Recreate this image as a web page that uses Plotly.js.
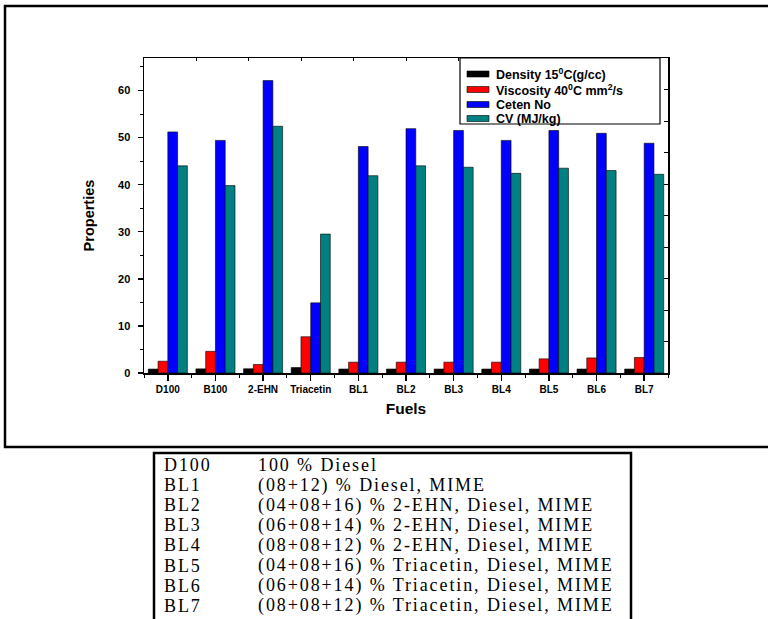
<!DOCTYPE html>
<html>
<head>
<meta charset="utf-8">
<script src="https://cdn.plot.ly/plotly-3.0.1.min.js"></script>
<style>
html,body{margin:0;padding:0;background:#fff;}
#chart{width:768px;height:619px;}
.annotation-text[style*="Liberation Serif"]{letter-spacing:1.9px;}
</style>
</head>
<body>
<div id="chart"></div>
<script>
const categories = ['D100','B100','2-EHN','Triacetin','BL1','BL2','BL3','BL4','BL5','BL6','BL7'];
const density   = [0.83, 0.88, 0.90, 1.16, 0.84, 0.84, 0.84, 0.84, 0.84, 0.84, 0.84];
const viscosity = [2.5, 4.6, 1.8, 7.7, 2.3, 2.3, 2.3, 2.3, 3.0, 3.2, 3.3];
const cetenNo   = [51.2, 49.4, 62.1, 14.9, 48.1, 51.9, 51.5, 49.4, 51.5, 50.9, 48.8];
const calorific = [44.0, 39.8, 52.4, 29.5, 41.9, 44.0, 43.7, 42.4, 43.5, 43.0, 42.2];
const seriesNames = ['Density 15<sup>0</sup>C(g/cc)', 'Viscosity 40<sup>0</sup>C mm<sup>2</sup>/s', 'Ceten No', 'CV (MJ/kg)'];
const seriesColors = ['#000000', '#ff0000', '#0000ff', '#008080'];
const tableCodes = ['D100','BL1','BL2','BL3','BL4','BL5','BL6','BL7'];
const tableDescriptions = [
  '100 % Diesel',
  '(08+12) % Diesel, MIME',
  '(04+08+16) % 2-EHN, Diesel, MIME',
  '(06+08+14) % 2-EHN, Diesel, MIME',
  '(08+08+12) % 2-EHN, Diesel, MIME',
  '(04+08+16) % Triacetin, Diesel, MIME',
  '(06+08+14) % Triacetin, Diesel, MIME',
  '(08+08+12) % Triacetin, Diesel, MIME'
];

const xIdx = categories.map((_, i) => i);
const values = [density, viscosity, cetenNo, calorific];

const traces = values.map((v, k) => ({
  type: 'bar', x: xIdx, y: v, name: seriesNames[k], showlegend: false,
  marker: {color: seriesColors[k], line: {color: '#000', width: 0.6}}
}));
traces.push({type: 'scatter', x: [], y: [], xaxis: 'x2', yaxis: 'y2', showlegend: false, hoverinfo: 'skip'});

// pixel -> paper helpers (plot area: x 144..668, y 58..373)
const L = 144, R = 668, T = 58, B = 373;
const px = v => (v - L) / (R - L);
const py = v => (B - v) / (B - T);

const bold = {family: 'Liberation Sans, Arial, sans-serif', color: '#000'};
const serif = {family: 'Liberation Serif, Times New Roman, serif', size: 18, color: '#000'};

const annotations = [];
const shapes = [
  {type: 'rect', xref: 'paper', yref: 'paper', x0: px(5), x1: px(780), y0: py(447), y1: py(6), line: {color: '#000', width: 2.5}},
  {type: 'rect', xref: 'paper', yref: 'paper', x0: px(154), x1: px(631), y0: py(630), y1: py(453), line: {color: '#000', width: 2.5}},
  // legend box
  {type: 'rect', xref: 'paper', yref: 'paper', x0: px(460), x1: px(660), y0: py(124), y1: py(58), line: {color: '#000', width: 1.2}, fillcolor: '#fff', layer: 'above'}
];

// legend entries
const legendRows = [74, 89.5, 104.5, 118.5];
seriesNames.forEach((n, k) => {
  const yy = legendRows[k];
  shapes.push({type: 'rect', xref: 'paper', yref: 'paper', x0: px(467), x1: px(489), y0: py(yy + 3), y1: py(yy - 3),
               line: {color: '#000', width: 0.6}, fillcolor: seriesColors[k], layer: 'above'});
  annotations.push({xref: 'paper', yref: 'paper', x: px(494), y: py(yy), xanchor: 'left', yanchor: 'middle',
                    text: '<b>' + n + '</b>', showarrow: false, font: Object.assign({size: 12.5}, bold)});
});

// description table below chart
tableCodes.forEach((c, i) => {
  const yy = 465 + i * 20.1;
  annotations.push({xref: 'paper', yref: 'paper', x: px(162), y: py(yy), xanchor: 'left', yanchor: 'middle', text: c, showarrow: false, font: serif});
  annotations.push({xref: 'paper', yref: 'paper', x: px(256), y: py(yy), xanchor: 'left', yanchor: 'middle', text: tableDescriptions[i], showarrow: false, font: serif});
});

const layout = {
  width: 768, height: 619,
  margin: {l: L, r: 768 - R, t: T, b: 619 - B, pad: 0},
  paper_bgcolor: '#fff', plot_bgcolor: '#fff',
  barmode: 'group', bargap: 0.18, bargroupgap: 0,
  showlegend: false,
  xaxis: {
    range: [-0.5, 10.5], tickvals: xIdx, ticktext: categories.map(c => '<b>' + c + '</b>'),
    ticks: 'outside', ticklen: 6, tickwidth: 1.5, tickcolor: '#000',
    minor: {tick0: 0.5, dtick: 1, ticks: 'outside', ticklen: 3, tickwidth: 1, tickcolor: '#000'},
    showline: true, linecolor: '#000', linewidth: 1.5, showgrid: false, zeroline: false,
    tickfont: Object.assign({size: 10}, bold),
    title: {text: '<b>Fuels</b>', font: Object.assign({size: 15.5}, bold), standoff: 9},
    fixedrange: true
  },
  yaxis: {
    range: [0, 66.9], dtick: 10, ticks: 'outside', ticklen: 5, tickwidth: 1.5, tickcolor: '#000',
    minor: {dtick: 5, ticks: 'outside', ticklen: 3, tickwidth: 1, tickcolor: '#000'},
    showline: true, linecolor: '#000', linewidth: 1.5, showgrid: false, zeroline: false,
    tickfont: Object.assign({size: 11}, bold), ticklabelstandoff: 5,
    tickprefix: '<b>', ticksuffix: '</b>',
    title: {text: '<b>Properties</b>', font: Object.assign({size: 14.5}, bold), standoff: 20},
    fixedrange: true
  },
  xaxis2: {overlaying: 'x', side: 'top', anchor: 'y2', range: [0, 10], dtick: 1, ticks: 'inside', ticklen: 3, tickwidth: 1, tickcolor: '#000',
           showticklabels: false, showline: true, linecolor: '#000', linewidth: 1.5, showgrid: false, zeroline: false},
  yaxis2: {overlaying: 'y', side: 'right', anchor: 'x2', range: [0, 10], dtick: 1, ticks: 'inside', ticklen: 4, tickwidth: 1, tickcolor: '#000',
           showticklabels: false, showline: true, linecolor: '#000', linewidth: 1.5, showgrid: false, zeroline: false},
  annotations: annotations,
  shapes: shapes
};

Plotly.newPlot('chart', traces, layout, {staticPlot: true, displayModeBar: false});
</script>
</body>
</html>
